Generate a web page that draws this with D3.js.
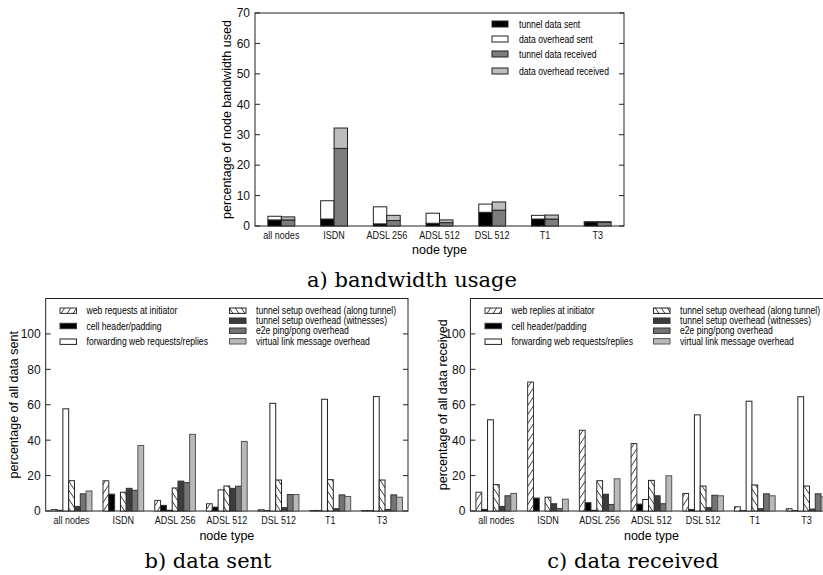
<!DOCTYPE html>
<html>
<head>
<meta charset="utf-8">
<script src="https://cdn.jsdelivr.net/npm/d3@7"></script>
<style>
  body { margin: 0; background: #fff; }
  svg { display: block; }
  .tick-x { font-family: "Liberation Sans", Arial, sans-serif; font-size: 11px; }
  .tick-y { font-family: "Liberation Sans", Arial, sans-serif; font-size: 12px; }
  .axlab { font-family: "Liberation Sans", Arial, sans-serif; font-size: 12.5px; }
  .leg { font-family: "Liberation Sans", Arial, sans-serif; font-size: 10.5px; }
  .title { font-family: "DejaVu Serif", serif; font-size: 21px; }
</style>
</head>
<body>
<div id="chart"></div>
<script>
// node types shared by the three panels
const nodeTypes = ['all nodes', 'ISDN', 'ADSL 256', 'ADSL 512', 'DSL 512', 'T1', 'T3'];

// a) bandwidth usage (stacked: sent / received)
const tunnelSent   = [2.0, 2.3, 0.7, 0.9, 4.5, 2.3, 1.3];
const overheadSent = [1.2, 6.0, 5.6, 3.3, 2.7, 1.2, 0.1];
const tunnelRecv   = [2.0, 25.5, 1.8, 1.1, 5.2, 2.3, 1.2];
const overheadRecv = [1.0, 6.7, 1.7, 0.9, 2.7, 1.3, 0.2];
const bwTicks = [0, 10, 20, 30, 40, 50, 60, 70];

// b) data sent
const sentWebReq  = [0.8, 17.1, 6.0, 4.1, 0.7, 0.3, 0.3];
const sentCell    = [0.4, 9.5, 3.2, 2.2, 0.3, 0.3, 0.3];
const sentForward = [57.7, 0, 0.4, 11.9, 60.8, 63.1, 64.6];
const sentAlong   = [17.1, 10.6, 13.0, 14.1, 17.5, 17.7, 17.5];
const sentWitness = [2.6, 12.8, 16.9, 12.8, 1.9, 1.3, 0.9];
const sentE2e     = [9.7, 11.7, 16.0, 14.0, 9.3, 9.1, 9.1];
const sentVlink   = [11.3, 37.0, 43.3, 39.3, 9.3, 8.2, 7.8];

// c) data received
const recvWebRep  = [10.6, 72.8, 45.6, 38.1, 9.9, 2.4, 1.3];
const recvCell    = [0.9, 7.3, 4.7, 3.9, 0.9, 0.3, 0.3];
const recvForward = [51.5, 0, 0.4, 6.5, 54.3, 62.0, 64.5];
const recvAlong   = [14.9, 7.8, 17.1, 17.3, 14.1, 14.7, 14.1];
const recvWitness = [2.6, 4.1, 9.5, 8.6, 1.9, 1.3, 1.1];
const recvE2e     = [8.6, 1.3, 3.7, 4.1, 8.9, 9.7, 9.7];
const recvVlink   = [9.9, 6.7, 18.2, 19.9, 8.6, 8.6, 8.0];
const pctTicks = [0, 20, 40, 60, 80, 100];

const W = 823, H = 575;
const NARROW = 0.82; // no narrow font installed, squeeze horizontally instead
const svg = d3.select('#chart').append('svg').attr('width', W).attr('height', H);

// hatch patterns
const defs = svg.append('defs');
function hatch(id, forward) {
  const p = defs.append('pattern').attr('id', id)
    .attr('patternUnits', 'userSpaceOnUse').attr('width', 6).attr('height', 9);
  p.append('rect').attr('width', 6).attr('height', 9).attr('fill', '#fff');
  const seg = forward ? [[0, 9, 6, 0], [-6, 9, 0, 0], [6, 9, 12, 0]] : [[0, 0, 6, 9], [-6, 0, 0, 9], [6, 0, 12, 9]];
  seg.forEach(s => p.append('line').attr('x1', s[0]).attr('y1', s[1]).attr('x2', s[2]).attr('y2', s[3])
    .attr('stroke', '#222').attr('stroke-width', 0.9));
}
hatch('hfwd', true);
hatch('hback', false);

const styles = {
  fwd:   { fill: 'url(#hfwd)', stroke: '#333' },
  black: { fill: '#000', stroke: '#333' },
  white: { fill: '#fff', stroke: '#222' },
  back:  { fill: 'url(#hback)', stroke: '#222' },
  dark:  { fill: '#3c3c3c', stroke: '#333' },
  mid:   { fill: '#747474', stroke: '#333' },
  light: { fill: '#b9b9b9', stroke: '#555' },
  midA:  { fill: '#7c7c7c', stroke: '#333' },
  lightA:{ fill: '#bdbdbd', stroke: '#555' }
};

function narrowText(g, x, y, txt, cls) {
  return g.append('text').attr('class', cls)
    .attr('transform', `translate(${x},${y}) scale(${NARROW},1)`)
    .attr('dy', '0.35em').text(txt);
}

function frame(g, x0, x1, y, ticks) {
  const [yb, yt] = y.range();
  g.append('rect').attr('x', x0).attr('y', yt).attr('width', x1 - x0).attr('height', yb - yt)
    .attr('fill', 'none').attr('stroke', '#222').attr('stroke-width', 1);
  const axisL = d3.axisLeft(y).tickValues(ticks).tickSize(0).tickPadding(5);
  const ax = g.append('g').attr('class', 'tick-y').attr('transform', `translate(${x0},0)`).call(axisL);
  ax.select('.domain').remove();
  ax.selectAll('text').attr('font-family', null).attr('font-size', null).attr('fill', '#111');
  ticks.forEach(t => {
    g.append('line').attr('x1', x0).attr('x2', x0 + 5).attr('y1', y(t)).attr('y2', y(t)).attr('stroke', '#222');
    g.append('line').attr('x1', x1).attr('x2', x1 - 5).attr('y1', y(t)).attr('y2', y(t)).attr('stroke', '#222');
  });
}

function xLabels(g, x, yPos) {
  const ax = g.append('g').attr('class', 'tick-x').attr('transform', `translate(0,${yPos})`)
    .call(d3.axisBottom(x).tickSize(0).tickPadding(0));
  ax.select('.domain').remove();
  ax.selectAll('text').attr('font-family', null).attr('font-size', null).attr('fill', '#111')
    .attr('dy', '0.71em').attr('transform', `scale(${NARROW},1)`);
}

// ---------- a) bandwidth usage ----------
(function () {
  const x0 = 255, x1 = 624, yT = 13, yB = 226;
  const g = svg.append('g');
  const y = d3.scaleLinear().domain([0, 70]).range([yB, yT]);
  const x = d3.scaleBand().domain(nodeTypes).range([x0, x1]);
  const side = d3.scaleBand().domain(['sent', 'recv']).range([x.bandwidth() * 0.245, x.bandwidth() * 0.755]);
  const rows = nodeTypes.map((n, i) => ({ n, ts: tunnelSent[i], os: overheadSent[i], tr: tunnelRecv[i], or: overheadRecv[i] }));
  const segs = [];
  rows.forEach(r => {
    segs.push({ n: r.n, s: 'sent', lo: 0, hi: r.ts, st: styles.black });
    segs.push({ n: r.n, s: 'sent', lo: r.ts, hi: r.ts + r.os, st: styles.white });
    segs.push({ n: r.n, s: 'recv', lo: 0, hi: r.tr, st: styles.midA });
    segs.push({ n: r.n, s: 'recv', lo: r.tr, hi: r.tr + r.or, st: styles.lightA });
  });
  frame(g, x0, x1, y, bwTicks);
  g.selectAll('rect.seg').data(segs).enter().append('rect').attr('class', 'seg')
    .attr('x', d => x(d.n) + side(d.s))
    .attr('width', side.bandwidth())
    .attr('y', d => y(d.hi))
    .attr('height', d => y(d.lo) - y(d.hi))
    .attr('fill', d => d.st.fill).attr('stroke', '#222').attr('stroke-width', 1);
  xLabels(g, x, 231);
  g.append('text').attr('class', 'axlab').attr('x', (x0 + x1) / 2).attr('y', 254).attr('text-anchor', 'middle').text('node type');
  g.append('text').attr('class', 'axlab').attr('transform', `translate(231,${(yT + yB) / 2}) rotate(-90)`)
    .attr('text-anchor', 'middle').text('percentage of node bandwidth used');
  const leg = [['tunnel data sent', styles.black], ['data overhead sent', styles.white],
               ['tunnel data received', styles.midA], ['data overhead received', styles.lightA]];
  const ly = [24, 39, 54, 71];
  leg.forEach((l, i) => {
    g.append('rect').attr('x', 492).attr('y', ly[i] - 3).attr('width', 16).attr('height', 6)
      .attr('fill', l[1].fill).attr('stroke', '#222');
    narrowText(g, 519, ly[i], l[0], 'leg');
  });
  g.append('text').attr('class', 'title').attr('x', 412).attr('y', 287).attr('text-anchor', 'middle').text('a) bandwidth usage');
})();

// ---------- b) / c) grouped bars ----------
function grouped(opt) {
  const { x0, x1, series, names, ylabel, ylabX, title, titleX, legL, legR } = opt;
  const yT = 298.5, yB = 511;
  const g = svg.append('g');
  const y = d3.scaleLinear().domain([0, 120]).range([yB, yT]);
  const x = d3.scaleBand().domain(nodeTypes).range([x0, x1]);
  const keys = series.map(s => s.key);
  const bw = x.bandwidth();
  const inner = d3.scaleBand().domain(keys).range([bw * 0.107, bw * 0.893]);
  frame(g, x0, x1, y, pctTicks);
  const data = [];
  series.forEach(s => s.values.forEach((v, i) => data.push({ n: nodeTypes[i], key: s.key, v, st: s.st })));
  g.selectAll('rect.bar').data(data).enter().append('rect').attr('class', 'bar')
    .attr('x', d => x(d.n) + inner(d.key))
    .attr('width', inner.bandwidth())
    .attr('y', d => y(d.v))
    .attr('height', d => y(0) - y(d.v))
    .attr('fill', d => d.st.fill).attr('stroke', d => d.st.stroke).attr('stroke-width', 1);
  xLabels(g, x, 516);
  g.append('text').attr('class', 'axlab').attr('x', (x0 + x1) / 2).attr('y', 540).attr('text-anchor', 'middle').text('node type');
  g.append('text').attr('class', 'axlab').attr('transform', `translate(${ylabX},${(yT + yB) / 2}) rotate(-90)`)
    .attr('text-anchor', 'middle').text(ylabel);
  g.append('text').attr('class', 'title').attr('x', titleX).attr('y', 568).attr('text-anchor', 'middle').text(title);
  const colL = [310.7, 326, 341.7], colR = [310.7, 320.7, 330.7, 341.3];
  series.slice(0, 3).forEach((s, i) => {
    g.append('rect').attr('x', legL).attr('y', colL[i] - 2.7).attr('width', 16.5).attr('height', 5.4)
      .attr('fill', s.st.fill).attr('stroke', s.st.stroke);
    narrowText(g, legL + 26.5, colL[i], names[i], 'leg');
  });
  series.slice(3).forEach((s, i) => {
    g.append('rect').attr('x', legR).attr('y', colR[i] - 2.7).attr('width', 16.5).attr('height', 5.4)
      .attr('fill', s.st.fill).attr('stroke', s.st.stroke);
    narrowText(g, legR + 26.5, colR[i], names[i + 3], 'leg');
  });
}

const tailNames = ['tunnel setup overhead (along tunnel)', 'tunnel setup overhead (witnesses)',
                   'e2e ping/pong overhead', 'virtual link message overhead'];

grouped({
  x0: 45.7, x1: 408, ylabel: 'percentage of all data sent', ylabX: 18,
  title: 'b) data sent', titleX: 208, legL: 60, legR: 229.5,
  names: ['web requests at initiator', 'cell header/padding', 'forwarding web requests/replies'].concat(tailNames),
  series: [
    { key: 'web', values: sentWebReq, st: styles.fwd },
    { key: 'cell', values: sentCell, st: styles.black },
    { key: 'fwd', values: sentForward, st: styles.white },
    { key: 'along', values: sentAlong, st: styles.back },
    { key: 'wit', values: sentWitness, st: styles.dark },
    { key: 'e2e', values: sentE2e, st: styles.mid },
    { key: 'vlink', values: sentVlink, st: styles.light }
  ]
});

grouped({
  x0: 470.4, x1: 832.4, ylabel: 'percentage of all data received', ylabX: 447,
  title: 'c) data received', titleX: 633, legL: 485, legR: 653.5,
  names: ['web replies at initiator', 'cell header/padding', 'forwarding web requests/replies'].concat(tailNames),
  series: [
    { key: 'web', values: recvWebRep, st: styles.fwd },
    { key: 'cell', values: recvCell, st: styles.black },
    { key: 'fwd', values: recvForward, st: styles.white },
    { key: 'along', values: recvAlong, st: styles.back },
    { key: 'wit', values: recvWitness, st: styles.dark },
    { key: 'e2e', values: recvE2e, st: styles.mid },
    { key: 'vlink', values: recvVlink, st: styles.light }
  ]
});
</script>
</body>
</html>
